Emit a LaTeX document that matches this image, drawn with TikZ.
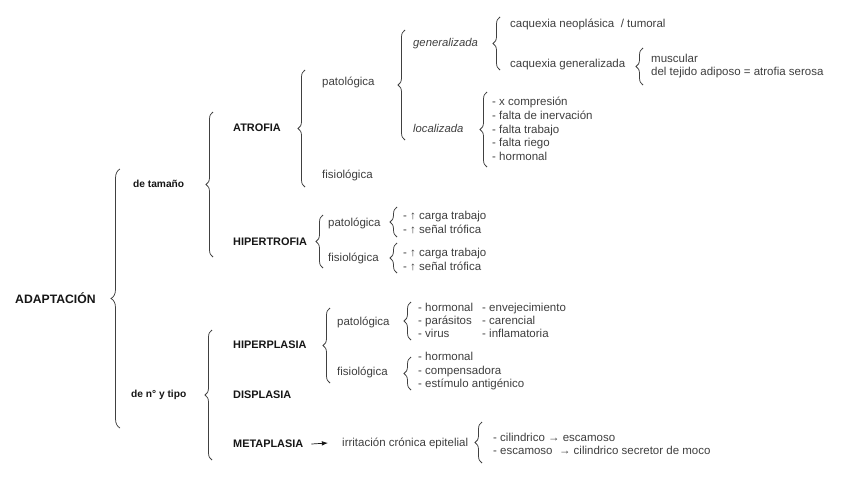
\documentclass[tikz,border=0pt]{standalone}
\usepackage{fontspec}
\setmainfont{Liberation Sans}
\usetikzlibrary{arrows.meta,positioning,decorations.pathreplacing}
\definecolor{Ink}{HTML}{161616}
\definecolor{Txt}{HTML}{3E3E3E}
\definecolor{Brace}{HTML}{404040}
\tikzset{
 head/.style={anchor=west, inner sep=0pt, font=\bfseries\fontsize{10.9}{12}\selectfont, text=Ink},
 sub/.style={anchor=west, inner sep=0pt, font=\bfseries\fontsize{10.2}{12}\selectfont, text=Ink},
 item/.style={anchor=west, inner sep=0pt, font=\fontsize{11.5}{13}\selectfont, text=Txt},
 emph/.style={item, font=\itshape\fontsize{11.3}{13}\selectfont},
 lines/.style={item, align=left, font=\fontsize{11.5}{#1}\selectfont},
 grp/.style={decorate, decoration={brace, amplitude=7pt}, draw=Brace, line width=0.75pt},
 arrow/.style={-Latex, draw=Ink, line width=0.7pt}
}
\begin{document}
\begin{tikzpicture}[x=1pt, y=-1pt]
\useasboundingbox (0,0) rectangle (848,477);
% root
\node[head, font=\bfseries\fontsize{12.2}{14}\selectfont] (root) at (15,298) {ADAPTACIÓN};
\node[sub] (size) at (133,184) {de tamaño};
\node[sub] (kind) at (131,395) {de n° y tipo};
% de tamaño
\node[head] (atro) at (233,128) {ATROFIA};
\node[head] (hipt) at (233,242) {HIPERTROFIA};
\node[item] (atroP) at (322,82) {patológica};
\node[item] (atroF) at (322,175) {fisiológica};
\node[emph] (gen) at (413,44) {generalizada};
\node[emph] (loc) at (413,128) {localizada};
\node[item] (caqN) at (510,24) {caquexia neoplásica \ / tumoral};
\node[item] (caqG) at (510,65) {caquexia generalizada};
\node[lines=13] (caqT) at (651,66.5) {muscular\\del tejido adiposo = atrofia serosa};
\node[lines=13.7] (locL) at (492,129) {- x compresión\\- falta de inervación\\- falta trabajo\\- falta riego\\- hormonal};
\node[item] (hiptP) at (328,223) {patológica};
\node[item] (hiptF) at (328,258) {fisiológica};
\node[lines=14.5] (hiptPL) at (403,222.5) {- ↑ carga trabajo\\- ↑ señal trófica};
\node[lines=14] (hiptFL) at (403,259) {- ↑ carga trabajo\\- ↑ señal trófica};
% de n° y tipo
\node[head] (hipp) at (233,345) {HIPERPLASIA};
\node[head] (disp) at (233,395) {DISPLASIA};
\node[head] (meta) at (233,444) {METAPLASIA};
\node[item] (hippP) at (337,322) {patológica};
\node[item] (hippF) at (337,372) {fisiológica};
\node[lines=13] (hippPL) at (418,320) {- hormonal\\- parásitos\\- virus};
\node[lines=13] (hippPR) at (482,320) {- envejecimiento\\- carencial\\- inflamatoria};
\node[lines=13.5] (hippFL) at (418,371.5) {- hormonal\\- compensadora\\- estímulo antigénico};
\node[item] (irr) at (342,443) {irritación crónica epitelial};
\node[lines=12.5] (metaL) at (493,444) {- cilindrico → escamoso\\- escamoso \ → cilindrico secretor de moco};
\draw[arrow] ([xshift=8pt]meta.east) -- ([xshift=-14pt]irr.west);
% braces
\draw[grp, decoration={amplitude=9pt}] (120,428) -- (120,169);
\draw[grp] (213,257) -- (213,112);
\draw[grp] (212,460) -- (212,330);
\draw[grp] (305,187) -- (305,70);
\draw[grp] (405,140) -- (405,30);
\draw[grp] (500,70) -- (500,17);
\draw[grp] (643,85) -- (643,48);
\draw[grp] (487,167) -- (487,92);
\draw[grp] (323,268) -- (323,215);
\draw[grp] (397,237) -- (397,207);
\draw[grp] (397,273) -- (397,243);
\draw[grp] (330,383) -- (330,308);
\draw[grp] (411,340) -- (411,302);
\draw[grp] (411,390) -- (411,357);
\draw[grp] (482,463) -- (482,422);
\end{tikzpicture}
\end{document}
